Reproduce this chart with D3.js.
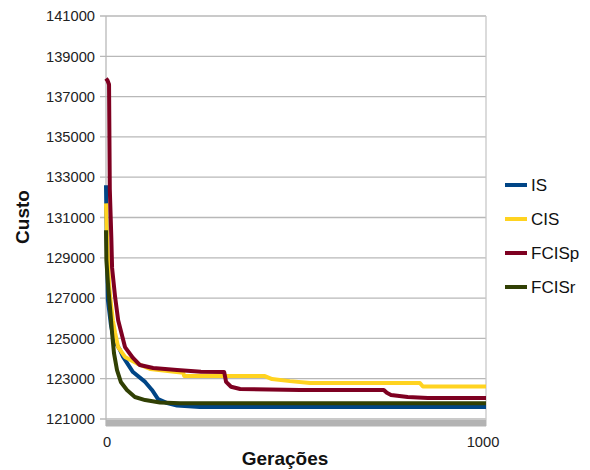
<!DOCTYPE html>
<html>
<head>
<meta charset="utf-8">
<script src="https://cdn.jsdelivr.net/npm/d3@7"></script>
<style>
  body { margin: 0; background: #fff; }
  svg { font-family: "Liberation Sans", Arial, sans-serif; }
</style>
</head>
<body>
<svg id="chart" width="590" height="470"></svg>
<script>
// series names and colours order
var seriesNames = ["IS", "CIS", "FCISp", "FCISr"];

// [geração, custo]
var isValues = [[0,132600],[1,131100],[3,128900],[5,126900],[13,125660],[21,124920],[37,124420],[45,124080],
  [71,123330],[103,122840],[121,122440],[137,121990],[161,121790],[187,121670],[247,121600],[1000,121600]];
var cisValues = [[0,131700],[2,130300],[8,127750],[11,127050],[18,125900],[24,125270],[32,124570],[50,124080],
  [82,123750],[116,123480],[203,123300],[206,123130],[418,123130],[437,122980],[484,122880],[537,122790],
  [826,122790],[834,122610],[1000,122610]];
var fcispValues = [[0,137900],[4,137800],[8,137600],[10,132400],[14,130000],[16,128500],[24,127050],[32,125900],
  [50,124570],[71,124030],[89,123680],[124,123530],[187,123430],[250,123350],[311,123330],[316,122840],
  [329,122600],[353,122490],[510,122440],[731,122440],[739,122300],[750,122190],[794,122090],[847,122040],
  [1000,122040]];
var fcisrValues = [[0,130370],[1,128890],[5,127750],[11,126410],[16,125270],[21,124270],[29,123430],[39,122840],
  [55,122440],[76,122090],[103,121940],[142,121820],[195,121780],[1000,121780]];

var yTicks = [121000, 123000, 125000, 127000, 129000, 131000, 133000, 135000, 137000, 139000, 141000];
var xTicks = [0, 1000];

var colors = ["#004586", "#ffd320", "#7e0021", "#314004"];
var allSeries = [isValues, cisValues, fcispValues, fcisrValues];

var svg = d3.select("#chart");

var x = d3.scaleLinear().domain([0, 1000]).range([106, 486]);
var y = d3.scaleLinear().domain([121000, 141000]).range([419, 16]);

// grid lines and small ticks to the left
svg.append("g")
  .selectAll("line")
  .data(yTicks)
  .enter().append("line")
  .attr("x1", 100)
  .attr("x2", x(1000))
  .attr("y1", function(d) { return y(d); })
  .attr("y2", function(d) { return y(d); })
  .attr("stroke", "#b8b8b8")
  .attr("stroke-width", 1.3);

// side walls
svg.append("line")
  .attr("x1", x(0)).attr("x2", x(0))
  .attr("y1", y(141000)).attr("y2", 426)
  .attr("stroke", "#b8b8b8").attr("stroke-width", 1.3);
svg.append("line")
  .attr("x1", x(1000)).attr("x2", x(1000))
  .attr("y1", y(141000)).attr("y2", 426)
  .attr("stroke", "#c8c8c8").attr("stroke-width", 1.3);

// floor
svg.append("rect")
  .attr("x", x(0))
  .attr("y", y(121000) + 1)
  .attr("width", x(1000) - x(0))
  .attr("height", 6.5)
  .attr("fill", "#b3b3b3");

// y labels
svg.append("g")
  .selectAll("text")
  .data(yTicks)
  .enter().append("text")
  .attr("x", 95)
  .attr("y", function(d) { return y(d); })
  .attr("dy", "0.36em")
  .attr("text-anchor", "end")
  .style("font-size", "14.7px")
  .attr("fill", "#222")
  .text(function(d) { return d; });

// x labels
svg.append("g")
  .selectAll("text")
  .data(xTicks)
  .enter().append("text")
  .attr("x", function(d) { return x(d) + (d == 1000 ? -3 : 1); })
  .attr("y", 447)
  .attr("text-anchor", "middle")
  .style("font-size", "14.7px")
  .attr("fill", "#222")
  .text(function(d) { return d; });

// axis titles
svg.append("text")
  .attr("x", 285)
  .attr("y", 465)
  .attr("text-anchor", "middle")
  .style("font-size", "19px")
  .style("font-weight", "bold")
  .attr("fill", "#111")
  .text("Gerações");

svg.append("text")
  .attr("transform", "translate(29,217) rotate(-90)")
  .attr("text-anchor", "middle")
  .style("font-size", "19px")
  .style("font-weight", "bold")
  .attr("fill", "#111")
  .text("Custo");

var line = d3.line()
  .x(function(d) { return x(d[0]); })
  .y(function(d) { return y(d[1]); });

svg.append("g")
  .selectAll("path")
  .data(allSeries)
  .enter().append("path")
  .attr("d", line)
  .attr("fill", "none")
  .attr("stroke", function(d, i) { return colors[i]; })
  .attr("stroke-width", 4)
  .attr("stroke-linejoin", "round");

// legend
var legend = svg.append("g")
  .selectAll("g")
  .data(seriesNames)
  .enter().append("g")
  .attr("transform", function(d, i) { return "translate(505," + (185 + i * 34) + ")"; });

legend.append("line")
  .attr("x1", 0).attr("x2", 22)
  .attr("stroke", function(d, i) { return colors[i]; })
  .attr("stroke-width", 4);

legend.append("text")
  .attr("x", 26)
  .attr("dy", "0.36em")
  .style("font-size", "17px")
  .attr("fill", "#111")
  .text(function(d) { return d; });
</script>
</body>
</html>
